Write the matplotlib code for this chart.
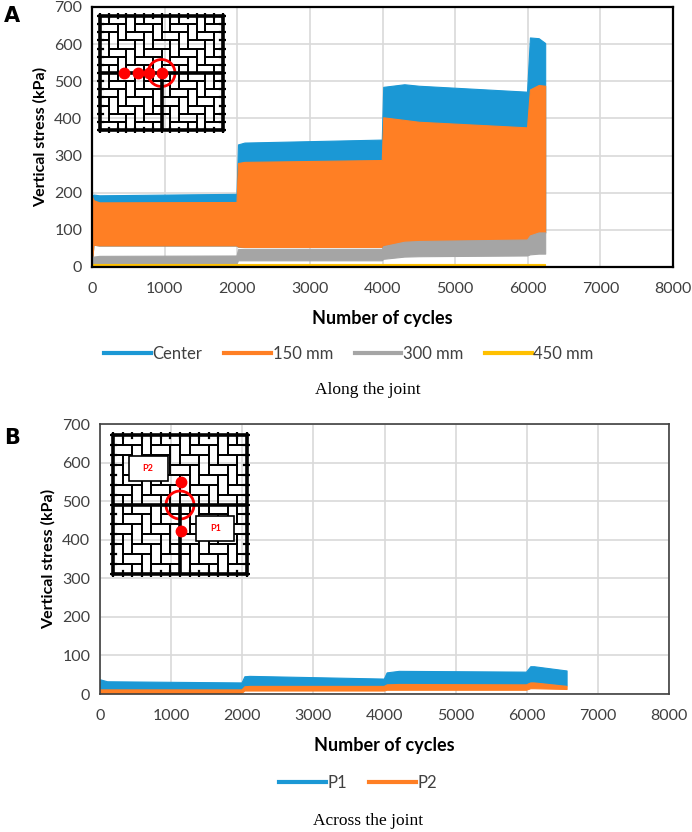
import numpy as np
import matplotlib
matplotlib.use("Agg")
import matplotlib.pyplot as plt
from matplotlib.patches import Ellipse, Rectangle
from matplotlib.lines import Line2D

# ---------------- Panel A data (Along the joint) ----------------
a_cycles = [0, 20, 100, 1990, 2010, 2100, 3990, 4010, 4300, 4500, 5990, 6030, 6150, 6240]
center_hi = [190, 195, 193, 197, 330, 335, 343, 485, 492, 488, 472, 618, 616, 603]
center_lo = [10, 60, 58, 58, 55, 54, 54, 58, 68, 70, 74, 85, 93, 93]
mm150_hi = [190, 180, 174, 175, 280, 283, 288, 403, 396, 391, 376, 478, 490, 488]
mm150_lo = [10, 60, 58, 58, 55, 54, 54, 58, 68, 70, 74, 85, 93, 93]
mm300_hi = [25, 28, 30, 31, 48, 49, 49, 56, 68, 70, 74, 85, 93, 93]
mm300_lo = [8, 8, 8, 9, 18, 18, 18, 22, 28, 29, 31, 34, 36, 36]
mm450_hi = [7, 7, 7, 7, 7, 7, 7, 7, 7, 7, 7, 7, 7, 7]
mm450_lo = [2, 2, 2, 2, 2, 2, 2, 2, 2, 2, 2, 2, 2, 2]
a_labels = ["Center", "150 mm", "300 mm", "450 mm"]

# ---------------- Panel B data (Across the joint) ----------------
b_cycles = [0, 100, 1990, 2030, 2100, 3990, 4030, 4200, 5990, 6050, 6100, 6560]
p1_hi = [38, 33, 30, 46, 47, 40, 56, 60, 58, 72, 72, 61]
p1_lo = [13, 13, 13, 20, 21, 21, 25, 26, 26, 30, 30, 22]
p2_hi = [12, 12, 12, 20, 21, 21, 25, 26, 25, 30, 30, 21]
p2_lo = [2, 2, 3, 9, 9, 9, 11, 11, 11, 15, 15, 13]
b_labels = ["P1", "P2"]

x_ticks = [0, 1000, 2000, 3000, 4000, 5000, 6000, 7000, 8000]
y_ticks = [0, 100, 200, 300, 400, 500, 600, 700]

BLUE = "#1b98d5"
ORANGE = "#ff7f24"
GRAY = "#a5a5a5"
YELLOW = "#ffc000"
TICKC = "#404040"
GRIDC = "#d9d9d9"

plt.rcParams['font.family'] = ['Lato', 'DejaVu Sans']

W, H = 692, 832
fig = plt.figure(figsize=(W / 100, H / 100), dpi=100)


def fx(px):
    return px / W


def fy(py):
    return 1 - py / H


def style_axes(ax, spine_color, spine_lw):
    ax.set_xlim(0, 8000)
    ax.set_ylim(0, 700)
    ax.set_xticks(x_ticks)
    ax.set_yticks(y_ticks)
    ax.grid(True, color=GRIDC, lw=1.2)
    ax.set_axisbelow(True)
    ax.tick_params(length=0, labelsize=11.5, colors=TICKC)
    ax.tick_params(axis="x", pad=11)
    ax.tick_params(axis="y", pad=7)
    for s in ax.spines.values():
        s.set_color(spine_color)
        s.set_linewidth(spine_lw)
    ax.set_xlabel("Number of cycles", fontsize=13, fontweight="bold", color="black", labelpad=10)
    ax.set_ylabel("Vertical stress (kPa)", fontsize=11.5, fontweight="bold", color="black", labelpad=5)


def draw_paver(ax, n=14):
    ax.set_xlim(-0.35, n + 0.35)
    ax.set_ylim(-0.35, n + 0.35)
    ax.axis("off")
    clip = Rectangle((0, 0), n, n, transform=ax.transData, fc="none", ec="none")
    ax.add_patch(clip)
    for m in range(-n, n + 1):
        for k in range(-2 * n, 2 * n + 1):
            hx, hy = k + 2 * m, k - 2 * m
            vx, vy = k + 2 * m, k + 1 - 2 * m
            for (x0, y0, w, h) in ((hx, hy, 2, 1), (vx, vy, 1, 2)):
                if x0 + w < 0 or x0 > n or y0 + h < 0 or y0 > n:
                    continue
                r = Rectangle((x0, y0), w, h, fill=False, ec="black", lw=1.3)
                ax.add_patch(r)
                r.set_clip_path(clip)
    ax.add_patch(Rectangle((0, 0), n, n, fill=False, ec="black", lw=2.6))
    ax.plot([0, n], [n / 2, n / 2], color="black", lw=2.6, solid_capstyle="butt")
    ax.plot([n / 2, n / 2], [0, n / 2], color="black", lw=2.6, solid_capstyle="butt")
    for i in range(n + 1):
        ax.plot([i, i], [-0.3, 0.3], color="black", lw=1.6)
        ax.plot([i, i], [n - 0.3, n + 0.3], color="black", lw=1.6)
        ax.plot([-0.3, 0.3], [i, i], color="black", lw=1.6)
        ax.plot([n - 0.3, n + 0.3], [i, i], color="black", lw=1.6)


# ---------------- Panel A ----------------
axA = fig.add_axes([fx(92), fy(267), fx(673 - 92), (267 - 7) / H])
series_a = [(center_hi, center_lo, BLUE), (mm150_hi, mm150_lo, ORANGE),
            (mm300_hi, mm300_lo, GRAY), (mm450_hi, mm450_lo, YELLOW)]
for hi, lo, c in series_a:
    axA.fill_between(a_cycles, lo, hi, color=c, lw=0.8, ec=c)
style_axes(axA, "black", 1.6)

handles_a = [Line2D([], [], color=c, lw=3) for _, _, c in series_a]
fig.legend(handles_a, a_labels, loc="center", bbox_to_anchor=(fx(349), fy(354)), ncol=4,
           frameon=False, fontsize=12, handlelength=2.8, handletextpad=0.1,
           columnspacing=1.3, labelcolor=TICKC)
fig.text(fx(368), fy(390), "Along the joint", family="Liberation Serif", fontsize=12.5,
         ha="center", va="center")
fig.text(fx(4), fy(16), "A", fontsize=15, fontweight="bold", family="DejaVu Sans",
         ha="left", va="center")

insA = fig.add_axes([fx(97), fy(133), fx(226 - 97), (133 - 13) / H])
draw_paver(insA)
nA = 14
pxu_x = (226 - 97) / (nA + 0.7)
pxu_y = (133 - 13) / (nA + 0.7)
insA.plot([2.7, 4.3, 5.6, 7.0], [7, 7, 7, 7], "o", color="red", ms=7.5, mec="red")
insA.add_patch(Ellipse((7.0, 7.0), 27 / pxu_x, 27 / pxu_y, fill=False, ec="red", lw=2))

# ---------------- Panel B ----------------
axB = fig.add_axes([fx(100), fy(694), fx(669 - 100), (694 - 424) / H])
series_b = [(p1_hi, p1_lo, BLUE), (p2_hi, p2_lo, ORANGE)]
for hi, lo, c in series_b:
    axB.fill_between(b_cycles, lo, hi, color=c, lw=0.8, ec=c)
style_axes(axB, "#404040", 1.2)

handles_b = [Line2D([], [], color=c, lw=3) for _, _, c in series_b]
fig.legend(handles_b, b_labels, loc="center", bbox_to_anchor=(fx(358), fy(783)), ncol=2,
           frameon=False, fontsize=12, handlelength=2.8, handletextpad=0.1,
           columnspacing=1.3, labelcolor=TICKC)
fig.text(fx(368), fy(821), "Across the joint", family="Liberation Serif", fontsize=12.5,
         ha="center", va="center")
fig.text(fx(4), fy(438), "B", fontsize=15, fontweight="bold", family="DejaVu Sans",
         ha="left", va="center")

insB = fig.add_axes([fx(110), fy(577), fx(250 - 110), (577 - 432) / H])
draw_paver(insB)
pxu_x = (250 - 110) / (nA + 0.7)
pxu_y = (577 - 432) / (nA + 0.7)
insB.plot([7.1, 7.1], [9.3, 4.3], "o", color="red", ms=7.5, mec="red")
insB.add_patch(Ellipse((7.0, 6.95), 28 / pxu_x, 28 / pxu_y, fill=False, ec="red", lw=2))
insB.add_patch(Rectangle((1.6, 9.4), 4.1, 2.5, fc="white", ec="black", lw=1.2, zorder=5))
insB.add_patch(Rectangle((8.7, 3.3), 4.0, 2.5, fc="white", ec="black", lw=1.2, zorder=5))
insB.text(3.65, 10.65, "P2", color="red", fontsize=6.5, fontweight="bold", ha="center",
          va="center", zorder=6)
insB.text(10.7, 4.55, "P1", color="red", fontsize=6.5, fontweight="bold", ha="center",
          va="center", zorder=6)

fig.savefig("out.png", dpi=100)
